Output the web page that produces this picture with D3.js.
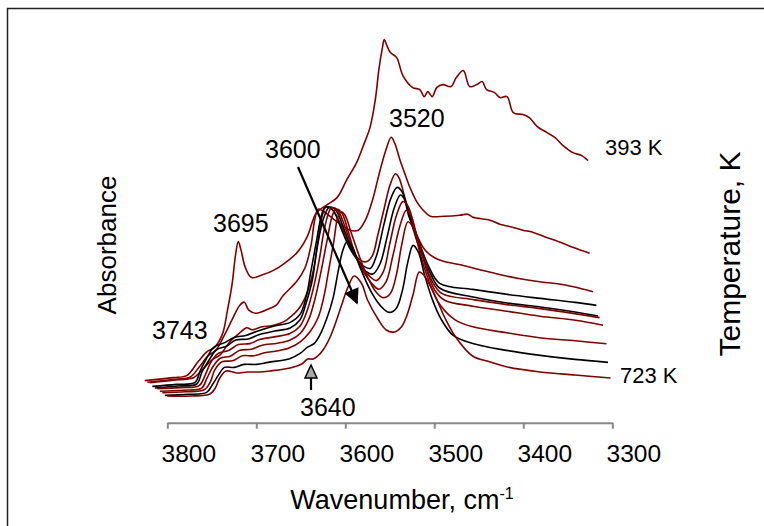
<!DOCTYPE html>
<html>
<head>
<meta charset="utf-8">
<script src="https://cdn.jsdelivr.net/npm/d3@7"></script>
<style>
body { margin: 0; background: #fff; }
text { font-family: "Liberation Sans", Arial, sans-serif; fill: #000; }
</style>
</head>
<body>
<svg width="764" height="526"></svg>
<script>
// spectra, back (393 K) to front (723 K); [wavenumber cm-1, absorbance]
var spec393 = [[3800,0.02],[3768,0.05],[3753,0.07],[3740,0.21],[3730,0.31],[3722,0.35],[3713,0.48],[3707,0.73],[3702,0.98],[3698,1.28],[3695,1.41],[3692,1.33],[3687,1.15],[3680,1.05],[3667,1.08],[3656,1.12],[3645,1.18],[3629,1.30],[3618,1.45],[3607,1.70],[3595,1.78],[3584,1.85],[3573,2.03],[3562,2.20],[3554,2.38],[3547,2.55],[3541,2.83],[3537,3.13],[3533,3.35],[3531,3.43],[3528,3.37],[3524,3.30],[3517,3.25],[3510,3.07],[3499,2.95],[3491,2.93],[3486,2.86],[3482,2.91],[3477,2.86],[3472,2.95],[3465,2.98],[3456,2.96],[3450,3.05],[3442,3.12],[3435,2.96],[3427,2.98],[3421,3.01],[3416,2.93],[3407,2.90],[3401,2.85],[3393,2.86],[3386,2.70],[3375,2.68],[3368,2.65],[3359,2.56],[3348,2.50],[3339,2.45],[3330,2.37],[3319,2.30],[3309,2.27],[3302,2.22]];
var spec2 = [[3800,0.02],[3769,0.05],[3752,0.07],[3741,0.18],[3731,0.29],[3723,0.34],[3714,0.48],[3705,0.64],[3696,0.79],[3691,0.82],[3686,0.74],[3678,0.71],[3662,0.76],[3655,0.79],[3648,0.88],[3632,1.03],[3623,1.16],[3616,1.39],[3612,1.64],[3608,1.75],[3604,1.74],[3595,1.68],[3583,1.60],[3572,1.54],[3563,1.54],[3555,1.64],[3547,1.84],[3539,2.12],[3532,2.34],[3526,2.47],[3522,2.41],[3516,2.24],[3510,2.09],[3505,1.97],[3497,1.82],[3490,1.74],[3482,1.68],[3466,1.68],[3449,1.69],[3440,1.70],[3434,1.67],[3415,1.64],[3404,1.60],[3390,1.57],[3378,1.54],[3367,1.52],[3355,1.48],[3336,1.42],[3322,1.37],[3303,1.31]];
var spec3 = [[3800,0.03],[3768,0.06],[3751,0.08],[3740,0.17],[3730,0.26],[3721,0.31],[3710,0.44],[3699,0.53],[3691,0.58],[3685,0.56],[3674,0.59],[3663,0.60],[3655,0.62],[3646,0.66],[3631,0.79],[3622,0.96],[3615,1.21],[3611,1.46],[3606,1.71],[3603,1.78],[3600,1.79],[3593,1.74],[3582,1.54],[3573,1.36],[3564,1.26],[3557,1.24],[3550,1.30],[3544,1.50],[3537,1.76],[3530,2.01],[3524,2.12],[3520,2.08],[3514,1.90],[3508,1.71],[3500,1.51],[3491,1.36],[3480,1.28],[3468,1.24],[3451,1.21],[3429,1.16],[3406,1.11],[3384,1.07],[3362,1.04],[3342,1.02],[3324,0.99],[3302,0.94]];
var spec4 = [[3800,0.01],[3773,0.03],[3752,0.05],[3746,0.17],[3739,0.29],[3731,0.40],[3718,0.45],[3708,0.50],[3695,0.52],[3683,0.56],[3665,0.61],[3645,0.65],[3634,0.73],[3627,0.91],[3622,1.15],[3616,1.44],[3610,1.72],[3606,1.80],[3601,1.80],[3596,1.76],[3587,1.57],[3578,1.39],[3569,1.27],[3562,1.21],[3555,1.19],[3548,1.32],[3540,1.62],[3532,1.89],[3525,2.00],[3519,1.95],[3512,1.72],[3501,1.47],[3490,1.22],[3477,1.04],[3440,0.98],[3401,0.93],[3364,0.89],[3325,0.85],[3301,0.82]];
var spec5 = [[3800,0.01],[3774,0.03],[3753,0.05],[3747,0.17],[3739,0.29],[3731,0.39],[3719,0.43],[3709,0.49],[3695,0.50],[3684,0.54],[3665,0.58],[3648,0.61],[3637,0.69],[3630,0.86],[3623,1.09],[3618,1.39],[3611,1.69],[3605,1.81],[3602,1.82],[3596,1.78],[3587,1.59],[3578,1.39],[3569,1.25],[3562,1.17],[3555,1.15],[3547,1.25],[3539,1.52],[3531,1.81],[3524,1.94],[3519,1.89],[3511,1.64],[3502,1.39],[3491,1.17],[3480,1.01],[3442,0.92],[3404,0.86],[3367,0.82],[3328,0.77],[3302,0.73]];
var spec6 = [[3800,0.02],[3774,0.03],[3753,0.05],[3746,0.16],[3740,0.28],[3732,0.37],[3720,0.40],[3709,0.46],[3696,0.47],[3685,0.51],[3667,0.54],[3651,0.57],[3640,0.64],[3632,0.79],[3625,1.01],[3618,1.31],[3612,1.63],[3606,1.81],[3603,1.83],[3597,1.80],[3588,1.61],[3579,1.39],[3570,1.23],[3561,1.14],[3554,1.10],[3546,1.19],[3539,1.46],[3531,1.76],[3524,1.89],[3518,1.84],[3510,1.59],[3501,1.33],[3491,1.09],[3480,0.97],[3445,0.91],[3407,0.86],[3370,0.82],[3331,0.77],[3303,0.73]];
var spec7 = [[3800,0.01],[3774,0.02],[3753,0.04],[3747,0.14],[3740,0.26],[3732,0.34],[3721,0.36],[3710,0.42],[3697,0.43],[3685,0.47],[3668,0.49],[3654,0.52],[3642,0.59],[3633,0.72],[3626,0.92],[3619,1.20],[3612,1.52],[3606,1.77],[3602,1.83],[3596,1.80],[3588,1.60],[3580,1.36],[3571,1.20],[3562,1.09],[3554,1.03],[3546,1.10],[3538,1.37],[3530,1.67],[3523,1.82],[3518,1.77],[3510,1.52],[3500,1.22],[3491,1.02],[3480,0.92],[3448,0.86],[3410,0.81],[3373,0.76],[3333,0.72],[3302,0.67]];
var spec8 = [[3800,0.01],[3774,0.02],[3753,0.04],[3746,0.12],[3741,0.24],[3733,0.32],[3721,0.33],[3710,0.38],[3697,0.38],[3685,0.41],[3670,0.43],[3657,0.46],[3645,0.52],[3634,0.62],[3625,0.76],[3618,0.99],[3613,1.24],[3607,1.54],[3603,1.76],[3599,1.82],[3595,1.79],[3587,1.59],[3578,1.36],[3569,1.16],[3560,1.02],[3552,0.96],[3544,1.00],[3537,1.19],[3531,1.49],[3524,1.72],[3518,1.66],[3510,1.39],[3499,1.09],[3488,0.89],[3471,0.74],[3451,0.67],[3413,0.61],[3376,0.56],[3336,0.53],[3301,0.50]];
var spec9 = [[3800,0.00],[3774,0.01],[3753,0.03],[3747,0.10],[3740,0.20],[3733,0.28],[3722,0.28],[3711,0.31],[3697,0.31],[3684,0.33],[3659,0.37],[3648,0.42],[3640,0.48],[3632,0.52],[3626,0.60],[3618,0.77],[3611,0.97],[3605,1.25],[3600,1.45],[3595,1.54],[3590,1.50],[3581,1.29],[3569,1.05],[3558,0.90],[3548,0.83],[3540,0.87],[3533,1.05],[3527,1.33],[3521,1.50],[3515,1.43],[3508,1.20],[3499,0.95],[3490,0.77],[3476,0.60],[3454,0.52],[3416,0.45],[3378,0.40],[3339,0.36],[3302,0.33]];
var spec723 = [[3800,0.01],[3774,0.01],[3752,0.03],[3746,0.09],[3741,0.19],[3734,0.26],[3722,0.24],[3710,0.25],[3697,0.25],[3685,0.26],[3662,0.29],[3649,0.33],[3642,0.38],[3636,0.38],[3631,0.41],[3625,0.47],[3617,0.60],[3609,0.79],[3603,0.95],[3596,1.12],[3590,1.21],[3582,1.14],[3575,0.97],[3564,0.79],[3554,0.67],[3545,0.65],[3537,0.70],[3531,0.81],[3524,1.02],[3517,1.25],[3513,1.23],[3505,1.12],[3497,0.97],[3488,0.79],[3476,0.60],[3457,0.41],[3437,0.35],[3418,0.30],[3381,0.25],[3342,0.22],[3302,0.19]];

var spectra = [spec393, spec2, spec3, spec4, spec5, spec6, spec7, spec8, spec9, spec723];
var xTicks = [3800, 3700, 3600, 3500, 3400, 3300];
var peakLabels = ["3743", "3695", "3600", "3520", "3640"];
var tempLabels = ["393 K", "723 K"];

var lineColors = ["#800000", "#800000", "#800000", "#000", "#000", "#800000", "#800000", "#800000", "#000", "#800000"];

var svg = d3.select("svg");
var depthDx = 2.5, depthDy = 1.6;   // shift of each series further back

var x = d3.scaleLinear().domain([3800, 3300]).range([167.3, 612.3]);
var y = d3.scaleLinear().domain([0, 3.6]).range([397, 37]);

// frame
svg.append("rect")
  .attr("x", 7.5).attr("y", 8.5).attr("width", 800).attr("height", 600)
  .attr("fill", "none").attr("stroke", "#222").attr("stroke-width", 1.5);

// axis
var ax = svg.append("g")
  .attr("transform", "translate(0,422.7)")
  .call(d3.axisBottom(x).tickValues(xTicks).tickSize(6).tickSizeOuter(0).tickFormat(d3.format("d")));
ax.select(".domain").attr("stroke", "#888").attr("stroke-width", 2);
ax.selectAll(".tick line").attr("stroke", "#888").attr("stroke-width", 2);
ax.selectAll(".tick text")
  .attr("y", 39).attr("dy", 0).attr("dx", 21)
  .style("font-size", "24.5px").style("font-family", "'Liberation Sans', Arial, sans-serif");

// spectra
var line = d3.line()
  .x(function(d) { return x(d[0]); })
  .y(function(d) { return y(d[1]); })
  .curve(d3.curveCatmullRom.alpha(0.5));

spectra.forEach(function(s, i) {
  var k = spectra.length - 1 - i;
  svg.append("path")
    .datum(s)
    .attr("transform", "translate(" + (-depthDx * k) + "," + (-depthDy * k) + ")")
    .attr("fill", "none")
    .attr("stroke", lineColors[i])
    .attr("stroke-width", 1.6)
    .attr("stroke-linejoin", "round")
    .attr("d", line);
});

// peak annotations
var labelPos = [[152, 339], [213, 232], [265, 158], [389, 127], [300, 416]];
peakLabels.forEach(function(t, i) {
  svg.append("text").attr("x", labelPos[i][0]).attr("y", labelPos[i][1])
    .style("font-size", "25px").text(t);
});

svg.append("text").attr("x", 605).attr("y", 155).style("font-size", "22px").text(tempLabels[0]);
svg.append("text").attr("x", 620).attr("y", 383).style("font-size", "22px").text(tempLabels[1]);

// arrows
var defs = svg.append("defs");
defs.append("marker").attr("id", "headBlack")
  .attr("viewBox", "0 0 10 10").attr("refX", 9).attr("refY", 5)
  .attr("markerWidth", 7.5).attr("markerHeight", 7).attr("orient", "auto")
  .attr("markerUnits", "strokeWidth")
  .append("path").attr("d", "M0,0L10,5L0,10Z").attr("fill", "#000");

svg.append("line")
  .attr("x1", 298).attr("y1", 167).attr("x2", 357).attr("y2", 303)
  .attr("stroke", "#000").attr("stroke-width", 2.2)
  .attr("marker-end", "url(#headBlack)");

svg.append("line")
  .attr("x1", 311).attr("y1", 390).attr("x2", 311).attr("y2", 377)
  .attr("stroke", "#000").attr("stroke-width", 2.2);
svg.append("path")
  .attr("d", "M305,378L317,378L311,365Z")
  .attr("fill", "#a8a8a8").attr("stroke", "#000").attr("stroke-width", 1.5);

// axis titles
var xt = svg.append("text").attr("x", 402).attr("y", 509)
  .attr("text-anchor", "middle").style("font-size", "27px");
xt.append("tspan").text("Wavenumber, cm");
xt.append("tspan").attr("dy", -10).style("font-size", "16px").text("-1");

svg.append("text")
  .attr("transform", "translate(116,245) rotate(-90)")
  .attr("text-anchor", "middle").style("font-size", "26px").text("Absorbance");

svg.append("text")
  .attr("transform", "translate(740,254) rotate(-90)")
  .attr("text-anchor", "middle").style("font-size", "30px").text("Temperature, K");
</script>
</body>
</html>
